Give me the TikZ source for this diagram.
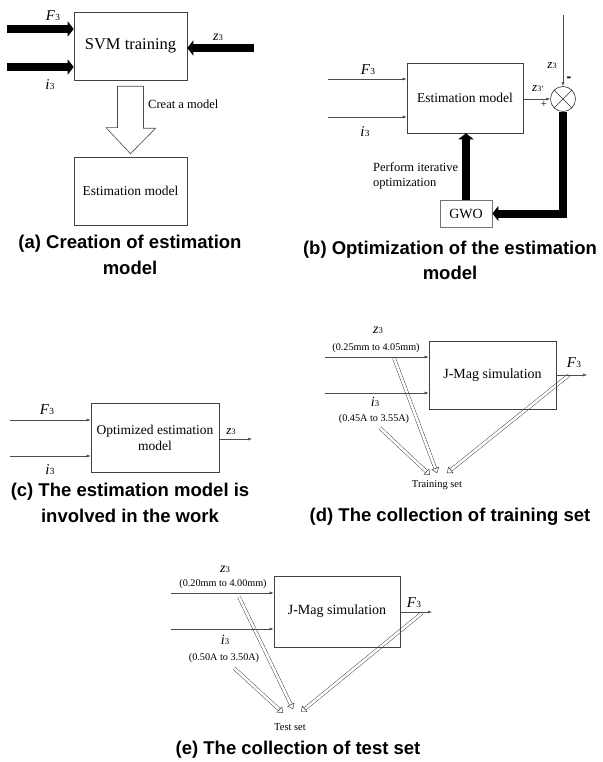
\documentclass[tikz,border=0pt]{standalone}
\usepackage{fontspec}
\usepackage{graphicx}
\setmainfont{Liberation Serif}
\newfontfamily\capfont{Liberation Sans}
\usetikzlibrary{arrows.meta,calc}
\newcommand{\vlab}[2]{\textit{#1}\kern0.2pt\scalebox{0.62}{#2}}
\newcommand{\fs}[1]{\fontsize{#1}{#1}\selectfont}
\tikzset{
  blk/.style={draw=black!75, line width=0.6pt, inner sep=0pt, align=center},
  thin line/.style={draw=black!70, line width=0.5pt, -{Latex[length=4pt,width=3pt]}},
  fat arrow/.style={line width=8pt, -{Triangle[length=6pt,width=15pt]}},
  hollow/.style={draw=black!85, line width=0.4pt, double=white, double distance=2.6pt, -{Triangle[open,length=5pt,width=8pt]}},
  captext/.style={font=\capfont\bfseries\fontsize{18.5}{25.5}\selectfont, align=center},
  lab/.style={inner sep=0pt},
}
\begin{document}
\begin{tikzpicture}[x=1pt,y=-1pt]
\useasboundingbox (0,0) rectangle (602,762);
% ---------------- (a)
\node[blk, minimum width=113pt, minimum height=68pt, font=\fs{16.5}] (svm) at (130.5,46) {SVM training};
\node[blk, minimum width=113pt, minimum height=68pt, font=\fs{13.5}] (esta) at (130.5,191) {Estimation model};
\coordinate (aF) at (7,29);
\coordinate (ai) at (7,67);
\coordinate (az) at (254,48);
\draw[fat arrow] (aF) -- (aF -| svm.west);
\draw[fat arrow] (ai) -- (ai -| svm.west);
\draw[fat arrow] (az) -- (az -| svm.east);
\node[lab, font=\fs{15}] (laF) at (53,16) {\vlab{F}{3}};
\node[lab, font=\fs{15}] (lai) at (50,85) {\vlab{i}{3}};
\node[lab, font=\fs{14}] (laz) at (218,37) {\vlab{z}{3}};
\draw[draw=black!70, line width=0.6pt, fill=white]
  ([shift={(-13,6)}]svm.south) -- ++(26,0) -- ++(0,42) -- ++(12,0)
  -- ([shift={(0,-3)}]esta.north) -- ++(-24.5,-26) -- ++(11.5,0) -- cycle;
\node[lab, anchor=west, font=\fs{12.5}] (cm) at (148,104) {Creat a model};
\node[captext] (capa) at (130,255) {(a) Creation of estimation\\model};
% ---------------- (b)
\node[blk, minimum width=116pt, minimum height=70pt, font=\fs{13.5}] (estb) at (465,98) {Estimation model};
\node[draw=black!80, line width=0.6pt, circle, minimum size=25pt, inner sep=0pt] (sum) at (563,99) {};
\draw[black!80, line width=0.6pt] (sum.north west) -- (sum.south east) (sum.north east) -- (sum.south west);
\node[draw=black!55, line width=0.8pt, minimum width=52pt, minimum height=27pt, inner sep=0pt, font=\fs{14}] (gwo) at (466,213.5) {GWO};
\coordinate (bF) at (328,79);
\coordinate (bi) at (328,117);
\coordinate (bz) at (563,15);
\draw[thin line] (bF) -- (bF -| estb.west);
\draw[thin line] (bi) -- (bi -| estb.west);
\draw[thin line] (bz) -- (sum.north);
\draw[thin line] (estb.east |- sum.west) -- (sum.west);
\draw[fat arrow] (sum.south) |- (gwo.east);
\draw[fat arrow] (gwo.north) -- (gwo.north |- estb.south);
\node[lab, font=\fs{15}] (lbF) at (368,70) {\vlab{F}{3}};
\node[lab, font=\fs{15}] (lbi) at (365,132) {\vlab{i}{3}};
\node[lab, font=\fs{13}] (lbz) at (552,66) {\vlab{z}{3}};
\node[lab, font=\fs{13}] (lbz2) at (538,89) {\vlab{z}{3'}};
\node[lab, font=\fs{11}] (plus) at (544,104) {+};
\node[lab, font=\capfont\bfseries\fs{14}] (minus) at (569,79) {-};
\node[lab, anchor=west, align=left, font=\fontsize{12.5}{15}\selectfont] (pio) at (373,175.5) {Perform iterative\\optimization};
\node[captext] (capb) at (450,260.5) {(b) Optimization of the estimation\\model};
% ---------------- (c)
\node[blk, minimum width=128pt, minimum height=69pt, font=\fontsize{13.5}{16}\selectfont] (opt) at (155,437.5) {Optimized estimation\\model};
\coordinate (cF) at (10,420);
\coordinate (ci) at (10,456);
\coordinate (cz) at (252,439);
\draw[thin line] (cF) -- (cF -| opt.west);
\draw[thin line] (ci) -- (ci -| opt.west);
\draw[thin line] (cz -| opt.east) -- (cz);
\node[lab, font=\fs{15}] (lcF) at (47,410) {\vlab{F}{3}};
\node[lab, font=\fs{15}] (lci) at (50,470) {\vlab{i}{3}};
\node[lab, font=\fs{13}] (lcz) at (231,432) {\vlab{z}{3}};
\node[captext] (capc) at (130,503) {(c) The estimation model is\\involved in the work};
% ---------------- (d)
\coordinate (d1s) at (394,358);
\coordinate (d1e) at (437,473);
\coordinate (d2s) at (380,428);
\coordinate (d2e) at (430,475);
\coordinate (d3s) at (569,375);
\coordinate (d3e) at (447,473);
\draw[hollow] (d1s) -- (d1e);
\draw[hollow] (d2s) -- (d2e);
\draw[hollow] (d3s) -- (d3e);
\node[blk, minimum width=127pt, minimum height=68pt, font=\fs{14}] (jmd) at (492.5,375) {J-Mag simulation};
\coordinate (dz) at (325,357);
\coordinate (di) at (325,393);
\coordinate (dF) at (587,375);
\draw[thin line] (dz) -- (dz -| jmd.west);
\draw[thin line] (di) -- (di -| jmd.west);
\draw[thin line] (dF -| jmd.east) -- (dF);
\node[lab, font=\fs{14}] (ldz) at (378,330) {\vlab{z}{3}};
\node[lab, font=\fs{10.2}] (ldzr) at (376,348) {(0.25mm to 4.05mm)};
\node[lab, font=\fs{14}] (ldi) at (375,402) {\vlab{i}{3}};
\node[lab, font=\fs{10.2}] (ldir) at (374,419) {(0.45A to 3.55A)};
\node[lab, font=\fs{15}] (ldF) at (574,363) {\vlab{F}{3}};
\node[lab, font=\fs{10.5}] (ts) at (437,485) {Training set};
\node[captext] (capd) at (450,517) {(d) The collection of training set};
% ---------------- (e)
\coordinate (e1s) at (239,597);
\coordinate (e1e) at (293,709);
\coordinate (e2s) at (234,668);
\coordinate (e2e) at (283,713);
\coordinate (e3s) at (422,613);
\coordinate (e3e) at (301,712);
\draw[hollow] (e1s) -- (e1e);
\draw[hollow] (e2s) -- (e2e);
\draw[hollow] (e3s) -- (e3e);
\node[blk, minimum width=126pt, minimum height=71pt, font=\fs{14}] (jme) at (337,611.5) {J-Mag simulation};
\coordinate (ez) at (171,593);
\coordinate (ei) at (171,629);
\coordinate (eF) at (432,612);
\draw[thin line] (ez) -- (ez -| jme.west);
\draw[thin line] (ei) -- (ei -| jme.west);
\draw[thin line] (eF -| jme.east) -- (eF);
\node[lab, font=\fs{14}] (lez) at (225,569) {\vlab{z}{3}};
\node[lab, font=\fs{10.2}] (lezr) at (223,584) {(0.20mm to 4.00mm)};
\node[lab, font=\fs{14}] (lei) at (225,640) {\vlab{i}{3}};
\node[lab, font=\fs{10.2}] (leir) at (224,658) {(0.50A to 3.50A)};
\node[lab, font=\fs{15}] (leF) at (414,603) {\vlab{F}{3}};
\node[lab, font=\fs{10.5}] (tes) at (290,727) {Test set};
\node[captext] (cape) at (298,750) {(e) The collection of test set};
\end{tikzpicture}
\end{document}
